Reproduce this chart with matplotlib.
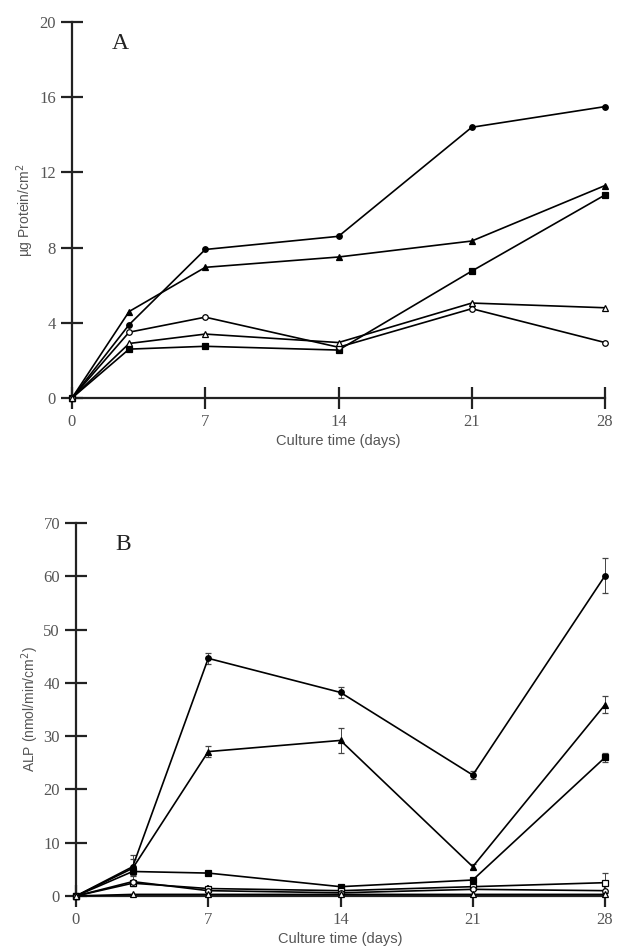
import numpy as np
import matplotlib.pyplot as plt

# --- data ---
days = [0, 3, 7, 14, 21, 28]

# panel A: protein (ug/cm2)
prot_circle = [0, 3.9, 7.9, 8.6, 14.4, 15.5]
prot_tri = [0, 4.6, 6.95, 7.5, 8.35, 11.3]
prot_sq = [0, 2.6, 2.75, 2.55, 6.75, 10.8]
prot_ocircle = [0, 3.5, 4.3, 2.7, 4.75, 2.95]
prot_otri = [0, 2.9, 3.4, 2.95, 5.05, 4.8]

# panel B: ALP (nmol/min/cm2)
alp_circle = [0, 5.5, 44.6, 38.2, 22.7, 60.1]
alp_circle_err = [0, 1.5, 1.0, 1.0, 0.8, 3.3]
alp_tri = [0, 5.2, 27.1, 29.2, 5.5, 35.9]
alp_tri_err = [0, 2.5, 1.0, 2.3, 0.5, 1.6]
alp_sq = [0, 4.6, 4.3, 1.75, 3.0, 26.0]
alp_sq_err = [0, 0.8, 0.4, 0.3, 0.4, 0.8]
alp_osq = [0, 2.4, 1.4, 1.0, 1.75, 2.5]
alp_osq_err = [0, 0.5, 0.3, 0.3, 0.3, 1.9]
alp_ocircle = [0, 2.7, 1.0, 0.6, 1.25, 1.0]
alp_otri = [0, 0.3, 0.3, 0.3, 0.3, 0.3]

GRAY = "#555555"
SERIF = ["Liberation Serif", "DejaVu Serif"]
SANS = ["Liberation Sans", "DejaVu Sans"]

fig = plt.figure(figsize=(6.17, 9.52), dpi=100)
axA = fig.add_axes([72 / 617, 1 - 398 / 952, (605 - 72) / 617, (398 - 22) / 952])
axB = fig.add_axes([76 / 617, 1 - 896 / 952, (605 - 76) / 617, (896 - 523) / 952])


def style(ax, ymax, ystep, ylabel, letter):
    ax.set_xlim(0, 28)
    ax.set_ylim(0, ymax)
    ax.set_xticks([0, 7, 14, 21, 28])
    ax.set_yticks(np.arange(0, ymax + 1, ystep))
    for s in ["top", "right"]:
        ax.spines[s].set_visible(False)
    for s in ["left", "bottom"]:
        ax.spines[s].set_linewidth(1.6)
        ax.spines[s].set_color("#222222")
    ax.tick_params(axis="both", direction="inout", length=16, width=1.6,
                   color="#222222", labelcolor=GRAY, labelsize=12)
    for lab in ax.get_xticklabels() + ax.get_yticklabels():
        lab.set_family(SERIF)
    ax.set_xlabel("Culture time (days)", family=SANS, fontsize=10.5, color=GRAY, labelpad=3)
    ax.set_ylabel(ylabel, family=SANS, fontsize=10, color=GRAY, labelpad=2)
    # letter ~21 px below the top of the axis
    h = ax.get_position().height * fig.get_figheight() * fig.dpi
    ax.text(0.075, 1 - 21 / h, letter, transform=ax.transAxes, family=SERIF,
            fontsize=17, color="#222222", va="center")


def series(ax, y, marker, filled, err=None, ms=4):
    fc = "black" if filled else "white"
    ax.errorbar(days, y, yerr=err, color="black", lw=1.2, marker=marker, ms=ms,
                mfc=fc, mec="black", mew=0.9, capsize=2.5, elinewidth=0.7,
                ecolor="#444444", clip_on=False, zorder=3)


# panel A
series(axA, prot_circle, "o", True)
series(axA, prot_tri, "^", True)
series(axA, prot_sq, "s", True)
series(axA, prot_ocircle, "o", False)
series(axA, prot_otri, "^", False)
style(axA, 20, 4, "\u00b5g Protein/cm$^2$", "A")

# panel B
series(axB, alp_circle, "o", True, alp_circle_err)
series(axB, alp_tri, "^", True, alp_tri_err)
series(axB, alp_sq, "s", True, alp_sq_err)
series(axB, alp_osq, "s", False, alp_osq_err)
series(axB, alp_ocircle, "o", False)
series(axB, alp_otri, "^", False)
style(axB, 70, 10, "ALP (nmol/min/cm$^2$)", "B")

fig.savefig("out.png", dpi=100)
